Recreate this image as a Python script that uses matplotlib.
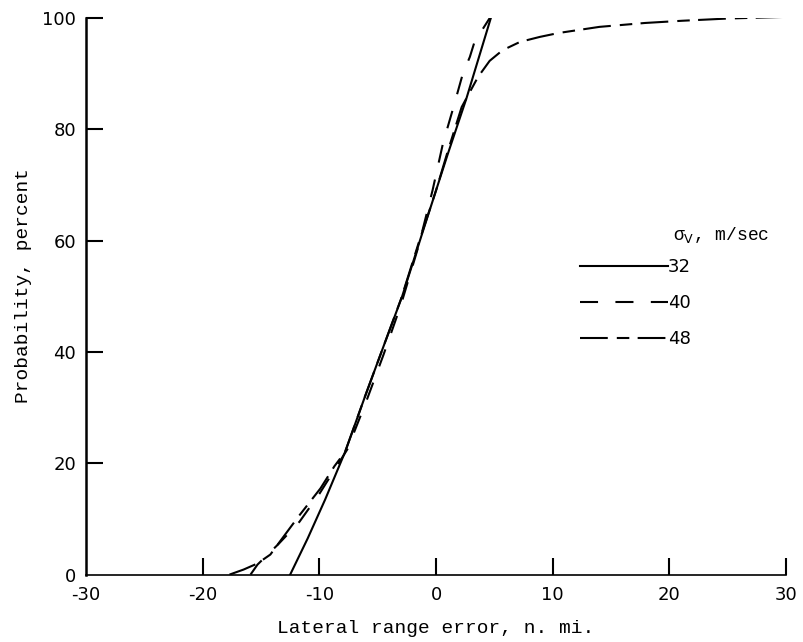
import matplotlib
matplotlib.use('Agg')
import matplotlib.pyplot as plt

plt.rcParams['lines.scale_dashes'] = False

# curve for sigma_V = 32 m/sec
x_32 = [-12.5, -11.0, -9.5, -7.8, -6.0, -4.5, -2.9, -1.0, 1.0, 2.6, 4.7]
y_32 = [0.0, 6.5, 13.5, 22.0, 32.5, 41.0, 50.0, 62.5, 75.5, 85.5, 100.0]

# sigma_V = 40 m/sec
x_40 = [-15.9, -15.3, -13.5, -11.7, -10.0, -8.5, -7.6, -6.0, -4.5, -3.0, -1.5,
        -0.3, 0.6, 1.5, 2.3, 2.9, 3.3, 4.0, 4.7]
y_40 = [0.0, 1.8, 5.5, 9.5, 14.5, 19.5, 22.5, 31.0, 39.5, 48.5, 59.0,
        69.0, 77.5, 84.0, 90.0, 93.0, 95.7, 98.0, 100.3]

# sigma_V = 48 m/sec
x_48 = [-17.7, -16.5, -15.3, -14.2, -13.5, -11.8, -9.9, -8.7, -7.8, -6.0, -4.5,
        -3.0, -1.5, 0.0, 1.0, 2.2, 3.6, 4.6, 5.7, 7.2, 8.9, 10.5, 14.0, 17.9,
        21.1, 25.0, 30.0]
y_48 = [0.0, 0.9, 2.0, 3.6, 5.6, 10.4, 15.5, 19.5, 22.0, 32.5, 41.0,
        49.5, 59.5, 69.0, 76.0, 84.0, 89.4, 92.3, 94.2, 95.7, 96.6, 97.3, 98.4, 99.1,
        99.5, 99.9, 100.2]

series_labels = ['32', '40', '48']
x_ticks = [-30, -20, -10, 0, 10, 20, 30]
y_ticks = [0, 20, 40, 60, 80, 100]

fig = plt.figure(figsize=(8.04, 6.42), dpi=100)
ax = fig.add_axes([0.107, 0.105, 0.8706, 0.867])

l1, = ax.plot(x_32, y_32, color='black', lw=1.5, ls='-')
l2, = ax.plot(x_40, y_40, color='black', lw=1.5, ls=(0, (13, 12.5)))
l3, = ax.plot(x_48, y_48, color='black', lw=1.5, ls=(0, (20, 6.5, 9, 6)))

ax.set_xlim(-30, 30)
ax.set_ylim(0, 100)
ax.spines['top'].set_visible(False)
ax.spines['right'].set_visible(False)
ax.spines['left'].set_linewidth(1.8)
ax.spines['bottom'].set_linewidth(1.2)

ax.set_xticks(x_ticks)
ax.set_yticks(y_ticks)
ax.set_xticklabels(['-30', '-20', '-10', '0', '10', '20', '30'])
ax.tick_params(direction='in', length=12, width=1.5, labelsize=13, pad=7)
ax.tick_params(axis='x', pad=8)
for lab in ax.get_xticklabels() + ax.get_yticklabels():
    lab.set_family('DejaVu Sans')
# no tick mark at the corner, only the labels
ax.xaxis.get_major_ticks()[0].tick1line.set_visible(False)
ax.yaxis.get_major_ticks()[0].tick1line.set_visible(False)

ax.set_xlabel('Lateral range error, n. mi.', family='Liberation Mono', fontsize=14, labelpad=12)
ax.set_ylabel('Probability, percent', family='Liberation Mono', fontsize=14)
ax.yaxis.set_label_coords(-0.077, 0.52)

leg = ax.legend([l1, l2, l3], series_labels, frameon=False, fontsize=13,
                handlelength=4.85, handletextpad=0.0, labelspacing=1.0,
                borderpad=0, borderaxespad=0, loc='upper left',
                bbox_to_anchor=(580 / 804, 1 - 258 / 642), bbox_transform=fig.transFigure)
for t in leg.get_texts():
    t.set_family('DejaVu Sans')

fig.text(673 / 804, 1 - 240 / 642, 'σ$_{\\mathrm{V}}$, m/sec', family='Liberation Mono',
         fontsize=13, va='baseline')

plt.savefig('out.png', dpi=100)
